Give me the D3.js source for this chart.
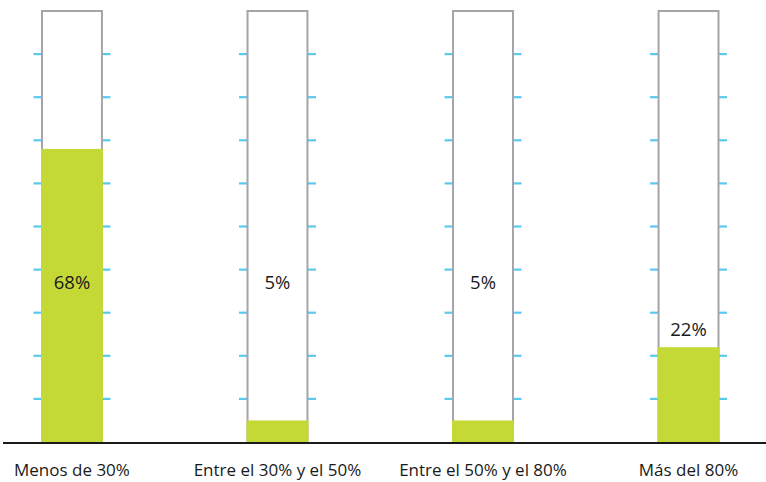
<!DOCTYPE html>
<html>
<head>
<meta charset="utf-8">
<script src="https://cdn.jsdelivr.net/npm/d3@7"></script>
<style>
  html, body { margin: 0; padding: 0; background: #ffffff; }
  svg { display: block; }
  text { font-family: "Open Sans", "Noto Sans", sans-serif; fill: #1a1a1a; }
</style>
</head>
<body>
<svg id="chart" width="766" height="482"></svg>
<script>
// ---- data ----
const categories = ["Menos de 30%", "Entre el 30% y el 50%", "Entre el 50% y el 80%", "Más del 80%"];
const values = [68, 5, 5, 22];
const valueLabels = ["68%", "5%", "5%", "22%"];
const scaleTicks = [10, 20, 30, 40, 50, 60, 70, 80, 90];
const scaleMax = 100;

// ---- layout ----
const W = 766, H = 482;
const svg = d3.select("#chart");

const x = d3.scaleBand()
  .domain(categories)
  .range([41.5, 719])
  .paddingInner(0.7035)
  .paddingOuter(0);

const y = d3.scaleLinear().domain([0, scaleMax]).range([442, 11]);

const bw = x.bandwidth();
const tickLen = 8;

const cols = svg.selectAll("g.col")
  .data(categories.map((c, i) => ({ c, v: values[i], label: valueLabels[i] })))
  .enter().append("g").attr("class", "col");

// tick marks on both sides
cols.each(function (d) {
  const g = d3.select(this);
  const x0 = x(d.c);
  g.selectAll("line.tl").data(scaleTicks).enter().append("line")
    .attr("x1", x0 - tickLen).attr("x2", x0)
    .attr("y1", t => y(t)).attr("y2", t => y(t))
    .attr("stroke", "#5bc8ee").attr("stroke-width", 2.2);
  g.selectAll("line.tr").data(scaleTicks).enter().append("line")
    .attr("x1", x0 + bw).attr("x2", x0 + bw + tickLen)
    .attr("y1", t => y(t)).attr("y2", t => y(t))
    .attr("stroke", "#5bc8ee").attr("stroke-width", 2.2);
});

// outline (thermometer tube)
cols.append("rect")
  .attr("x", d => x(d.c) + 0.5)
  .attr("y", y(scaleMax))
  .attr("width", bw - 1)
  .attr("height", y(0) - y(scaleMax))
  .attr("fill", "#ffffff")
  .attr("stroke", "#a4a4a9")
  .attr("stroke-width", 2);

// filled bar
cols.append("rect")
  .attr("x", d => x(d.c) - 0.5)
  .attr("y", d => y(d.v))
  .attr("width", bw + 1)
  .attr("height", d => y(0) - y(d.v))
  .attr("fill", "#c4d836");

// value labels
const labelLevel = 35.5;
cols.append("text")
  .attr("x", d => x(d.c) + bw / 2)
  .attr("y", d => (d.v >= 10 && d.v < 30) ? y(d.v) - 11 : y(labelLevel))
  .attr("text-anchor", "middle")
  .style("font-size", "18.5px")
  .text(d => d.label);

// baseline
svg.append("line")
  .attr("x1", 3).attr("x2", W)
  .attr("y1", 443).attr("y2", 443)
  .attr("stroke", "#1a1a1a").attr("stroke-width", 2);

// category labels
cols.append("text")
  .attr("x", d => x(d.c) + bw / 2)
  .attr("y", 476)
  .attr("text-anchor", "middle")
  .style("font-size", "17px")
  .text(d => d.c);
</script>
</body>
</html>
